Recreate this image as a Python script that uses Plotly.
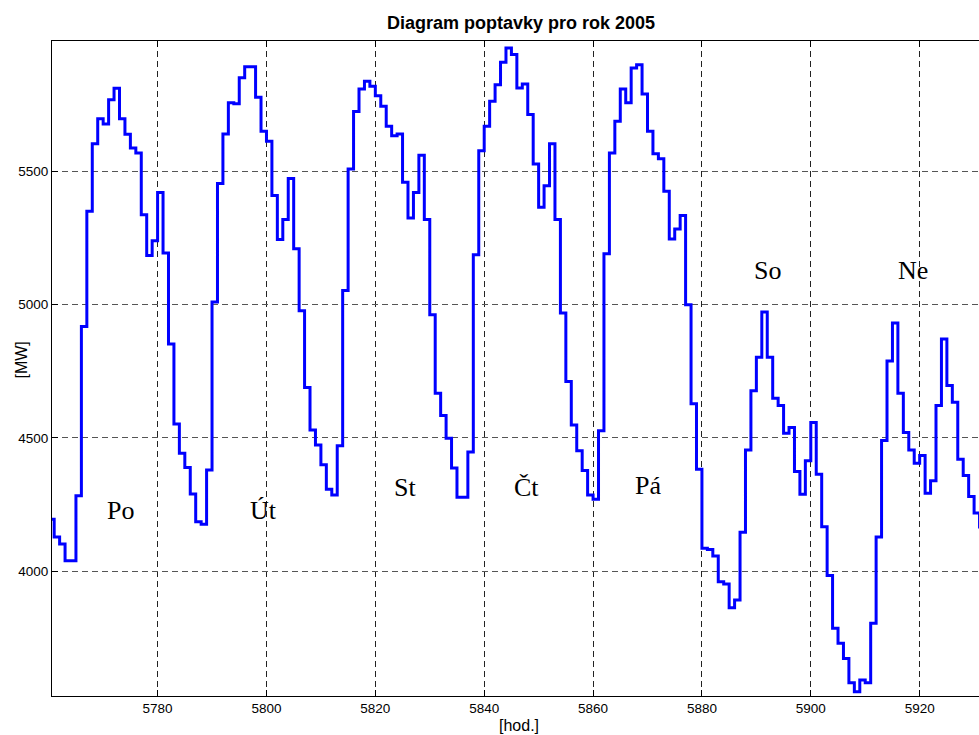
import plotly.graph_objects as go

# Hourly electricity demand, one week (hour index of the year 2005)
start_hour = 5760
demand_mw = [
    4195, 4128, 4102, 4039, 4039, 4283, 4918, 5350, 5604, 5697,
    5678, 5769, 5812, 5697, 5639, 5588, 5569, 5337, 5184, 5240,
    5421, 5194, 4852, 4552, 4443, 4389, 4290, 4186, 4176, 4380,
    5010, 5454, 5640, 5757, 5754, 5851, 5892, 5892, 5778, 5650,
    5613, 5409, 5244, 5319, 5473, 5210, 4977, 4689, 4530, 4474,
    4399, 4308, 4286, 4471, 5053, 5509, 5725, 5809, 5838, 5819,
    5784, 5744, 5669, 5634, 5640, 5459, 5325, 5421, 5560, 5319,
    4962, 4668, 4584, 4499, 4387, 4278, 4278, 4447, 5187, 5577,
    5669, 5763, 5825, 5909, 5963, 5938, 5813, 5828, 5713, 5528,
    5365, 5446, 5604, 5319, 4969, 4712, 4549, 4452, 4378, 4286,
    4270, 4527, 5191, 5569, 5688, 5809, 5757, 5888, 5900, 5790,
    5650, 5566, 5547, 5425, 5246, 5284, 5334, 5000, 4628, 4383,
    4086, 4082, 4057, 3961, 3952, 3863, 3892, 4146, 4455, 4677,
    4803, 4972, 4803, 4649, 4622, 4518, 4539, 4374, 4289, 4414,
    4558, 4364, 4167, 3984, 3786, 3730, 3673, 3582, 3548, 3592,
    3582, 3805, 4128, 4490, 4789, 4931, 4668, 4520, 4455, 4405,
    4434, 4293, 4339, 4622, 4871, 4697, 4634, 4420, 4359, 4280,
    4218, 4160,
]
hours = [start_hour + i for i in range(len(demand_mw))]

# Day-of-week labels and where they sit on the chart
day_names = ["Po", "Út", "St", "Čt", "Pá", "So", "Ne"]
day_label_x = [5773.1, 5799.4, 5825.5, 5847.8, 5870.1, 5892.1, 5918.8]
day_label_y = [4226, 4226, 4316, 4316, 4320, 5128, 5128]

x_ticks = [5780, 5800, 5820, 5840, 5860, 5880, 5900, 5920]
y_ticks = [4000, 4500, 5000, 5500]

sans = "Liberation Sans, Arial, sans-serif"
serif = "Liberation Serif, Times New Roman, serif"

fig = go.Figure()
fig.add_trace(go.Scatter(
    x=hours, y=demand_mw, mode="lines",
    line=dict(color="#0000FF", width=3, shape="hv"),
    showlegend=False, hoverinfo="x+y",
))

for name, lx, ly in zip(day_names, day_label_x, day_label_y):
    fig.add_annotation(x=lx, y=ly, xref="x", yref="y", text=name,
                       showarrow=False, xanchor="center", yanchor="middle",
                       font=dict(family=serif, size=26, color="black"))

# Axis titles
fig.add_annotation(x=(518.7 - 52) / 927, y=(696 - 725.5) / 655,
                   xref="paper", yref="paper", text="[hod.]",
                   showarrow=False, xanchor="center", yanchor="middle",
                   font=dict(family=sans, size=16, color="black"))
fig.add_annotation(x=(20.5 - 52) / 927, y=(696 - 360) / 655,
                   xref="paper", yref="paper", text="[MW]", textangle=-90,
                   showarrow=False, xanchor="center", yanchor="middle",
                   font=dict(family=sans, size=16, color="black"))

fig.update_layout(
    width=979, height=735,
    margin=dict(l=52, r=0, t=41, b=39),
    paper_bgcolor="white", plot_bgcolor="white",
    title=dict(text="<b>Diagram poptavky pro rok 2005</b>",
               x=521 / 979, xref="container", xanchor="center",
               y=1 - 23 / 735, yref="container", yanchor="middle",
               font=dict(family=sans, size=18, color="black")),
)
fig.update_xaxes(
    range=[5760.6, 5930.9], tickvals=x_ticks,
    showline=True, linecolor="black", linewidth=1, mirror="ticks",
    ticks="inside", ticklen=6, tickcolor="black",
    showgrid=True, gridcolor="#222222", gridwidth=1, griddash="6px,4px",
    zeroline=False,
    tickfont=dict(family=sans, size=13.5, color="black"),
)
fig.update_yaxes(
    range=[3532, 5989], tickvals=y_ticks,
    showline=True, linecolor="black", linewidth=1, mirror=False,
    ticks="inside", ticklen=6, tickcolor="black",
    showgrid=True, gridcolor="#555555", gridwidth=1, griddash="6px,4px",
    zeroline=False,
    tickfont=dict(family=sans, size=13.5, color="black"),
)

fig.write_html("out.html")
